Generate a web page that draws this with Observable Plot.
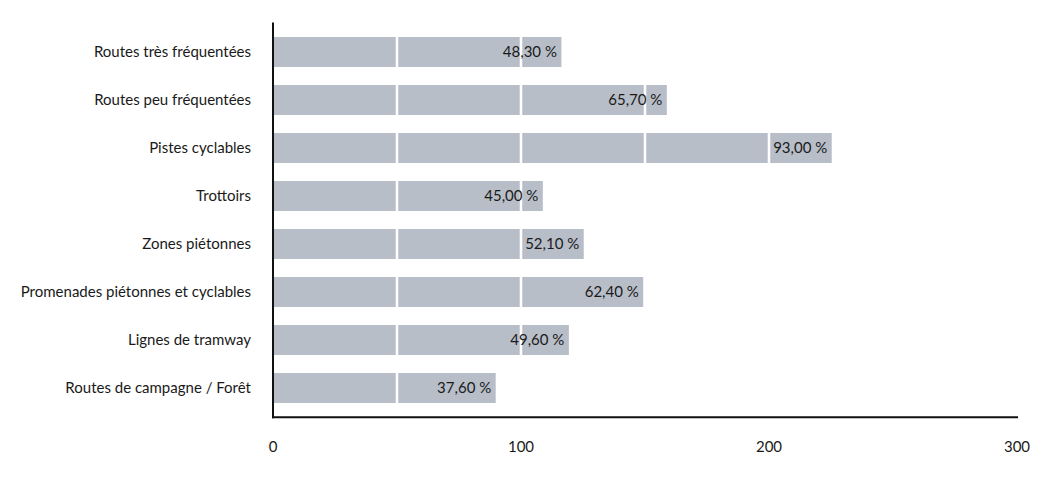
<!DOCTYPE html>
<html>
<head>
<meta charset="utf-8">
<script src="https://cdn.jsdelivr.net/npm/d3@7"></script>
<script src="https://cdn.jsdelivr.net/npm/@observablehq/plot@0.6"></script>
<style>
  html, body { margin: 0; padding: 0; background: #ffffff; }
  #chart svg { display: block; }
</style>
</head>
<body>
<div id="chart"></div>
<script>
const categories = [
  "Routes très fréquentées",
  "Routes peu fréquentées",
  "Pistes cyclables",
  "Trottoirs",
  "Zones piétonnes",
  "Promenades piétonnes et cyclables",
  "Lignes de tramway",
  "Routes de campagne / Forêt"
];
const barValues = [116.5, 159, 225.5, 109, 125.5, 149.5, 119.5, 90];
const percentLabels = ["48,30 %", "65,70 %", "93,00 %", "45,00 %", "52,10 %", "62,40 %", "49,60 %", "37,60 %"];
const xTicks = [0, 100, 200, 300];
const gridLines = [50, 100, 150, 200, 250];

const data = categories.map((c, i) => ({category: c, value: barValues[i], label: percentLabels[i]}));

const chart = Plot.plot({
  width: 1041,
  height: 478,
  marginLeft: 272.5,
  marginRight: 24.5,
  marginTop: 23,
  marginBottom: 61.3,
  style: {fontFamily: "Lato, 'Open Sans', sans-serif", fontSize: "15px", color: "#1a1a1a", background: "#ffffff"},
  x: {domain: [0, 300]},
  y: {domain: categories, paddingInner: 0.375, paddingOuter: 0.215},
  marks: [
    Plot.barX(data, {y: "category", x: "value", fill: "#b8bec8"}),
    Plot.ruleX(gridLines, {stroke: "#ffffff", strokeWidth: 2.5}),
    Plot.text(data, {y: "category", x: "value", text: "label", textAnchor: "end", dx: -5, fill: "#1a1a1a", fontSize: 15}),
    Plot.axisX({ticks: xTicks, tickSize: 0, tickPadding: 24, fontSize: 15, label: null, tickFormat: d => String(d)}),
    Plot.axisY({tickSize: 0, tickPadding: 22, fontSize: 15, label: null}),
    Plot.frame({anchor: "bottom", stroke: "#111", strokeWidth: 2}),
    Plot.frame({anchor: "left", stroke: "#111", strokeWidth: 2})
  ]
});
document.getElementById("chart").appendChild(chart);
</script>
</body>
</html>
